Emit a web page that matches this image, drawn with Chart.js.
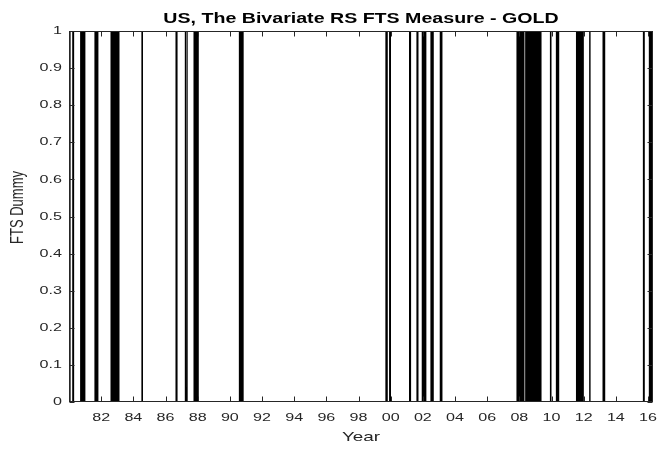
<!DOCTYPE html>
<html>
<head>
<meta charset="utf-8">
<script src="https://cdn.jsdelivr.net/npm/chart.js@4.4.1/dist/chart.umd.min.js"></script>
<style>
  html, body { margin: 0; padding: 0; background: #ffffff; }
  #wrap { width: 657px; height: 450px; position: relative; }
</style>
</head>
<body>
<div id="wrap"><canvas id="c"></canvas></div>
<script>
// Titles
const chartTitle = 'US, The Bivariate RS FTS Measure - GOLD';
const xTitle = 'Year';
const yTitle = 'FTS Dummy';

// Periods where the FTS dummy equals 1 (decimal years, start / end)
const ftsStart = [1980.00, 1980.20, 1980.69, 1981.58, 1982.58, 1984.50, 1986.62, 1987.20, 1987.33, 1987.74,
                  1990.56, 1999.67, 1999.90, 2001.14, 2001.60, 2001.93, 2002.47, 2003.05, 2007.82, 2008.36,
                  2009.90, 2010.27, 2011.52, 2012.34, 2013.17, 2015.68, 2016.05];
const ftsEnd   = [1980.10, 1980.32, 1981.02, 1981.83, 1983.14, 1984.60, 1986.75, 1987.29, 1987.38, 1988.07,
                  1990.86, 1999.82, 2000.02, 2001.27, 2001.73, 2002.22, 2002.68, 2003.22, 2008.32, 2009.38,
                  2010.00, 2010.48, 2012.01, 2012.43, 2013.34, 2015.80, 2016.26];

// Axis ticks
const yearTicks = [1982, 1984, 1986, 1988, 1990, 1992, 1994, 1996, 1998, 2000,
                   2002, 2004, 2006, 2008, 2010, 2012, 2014, 2016];
const dummyTicks = [0, 0.1, 0.2, 0.3, 0.4, 0.5, 0.6, 0.7, 0.8, 0.9, 1];
const xMin = 1980.0, xMax = 2016.31;

// Step outline of the dummy: each period becomes a filled block
const stepPoints = [];
ftsStart.forEach((s, i) => {
  stepPoints.push({ x: s, y: 0 }, { x: s, y: 1 }, { x: ftsEnd[i], y: 1 }, { x: ftsEnd[i], y: 0 });
});

const TEXT = '#262626';
const STRETCH = 1.4;   // wide lettering
const FONT = '"Liberation Sans", Arial, Helvetica, sans-serif';

function wideText(ctx, text, x, y, align, font) {
  ctx.save();
  ctx.font = font;
  ctx.textAlign = align;
  ctx.textBaseline = 'middle';
  ctx.translate(x, y);
  ctx.scale(STRETCH, 1);
  ctx.fillText(text, 0, 0);
  ctx.restore();
}

// Box, inward ticks, tick labels and titles in the MATLAB axes style
const axesDecor = {
  id: 'axesDecor',
  afterDraw(chart) {
    const { ctx, chartArea: a, scales: { x, y } } = chart;
    const L = Math.round(a.left) + 0.5, R = Math.round(a.right) - 0.5;
    const T = Math.round(a.top) + 0.5, B = Math.round(a.bottom) - 0.5;
    const tl = 5;
    ctx.save();
    ctx.strokeStyle = TEXT;
    ctx.lineWidth = 1;
    ctx.beginPath();
    yearTicks.forEach(v => {
      const px = Math.round(x.getPixelForValue(v)) + 0.5;
      ctx.moveTo(px, B); ctx.lineTo(px, B - tl);
      ctx.moveTo(px, T); ctx.lineTo(px, T + tl);
    });
    dummyTicks.forEach(v => {
      const py = Math.round(y.getPixelForValue(v)) + 0.5;
      ctx.moveTo(L, py); ctx.lineTo(L + tl, py);
      ctx.moveTo(R, py); ctx.lineTo(R - tl, py);
    });
    ctx.stroke();
    ctx.strokeRect(L, T, R - L, B - T);

    ctx.fillStyle = TEXT;
    const tickFont = '11.5px ' + FONT;
    yearTicks.forEach(v => {
      const lab = String(v % 100).padStart(2, '0');
      wideText(ctx, lab, x.getPixelForValue(v), a.bottom + 16, 'center', tickFont);
    });
    dummyTicks.forEach(v => {
      wideText(ctx, String(v), a.left - 7, y.getPixelForValue(v), 'right', tickFont);
    });

    const cx = (a.left + a.right) / 2;
    wideText(ctx, xTitle, cx, a.bottom + 35, 'center', '13.5px ' + FONT);

    ctx.fillStyle = '#000000';
    wideText(ctx, chartTitle, cx, a.top - 12, 'center', 'bold 14px ' + FONT);

    ctx.fillStyle = TEXT;
    ctx.save();
    ctx.font = '13px ' + FONT;
    ctx.textAlign = 'center';
    ctx.textBaseline = 'middle';
    ctx.translate(18, (a.top + a.bottom) / 2 - 9);
    ctx.rotate(-Math.PI / 2);
    ctx.scale(1, STRETCH);
    ctx.fillText(yTitle, 0, 0);
    ctx.restore();
    ctx.restore();
  }
};

new Chart(document.getElementById('c'), {
  type: 'line',
  data: {
    datasets: [{
      label: yTitle,
      data: stepPoints,
      borderColor: '#000000',
      borderWidth: 0,
      backgroundColor: '#000000',
      fill: 'origin',
      pointRadius: 0,
      tension: 0
    }]
  },
  options: {
    responsive: true,
    maintainAspectRatio: false,
    animation: false,
    devicePixelRatio: 1,
    layout: { padding: { top: 31, right: 4, left: 0, bottom: 0 } },
    plugins: { legend: { display: false }, tooltip: { enabled: false }, title: { display: false } },
    scales: {
      x: {
        type: 'linear', min: xMin, max: xMax,
        afterBuildTicks: s => { s.ticks = yearTicks.map(v => ({ value: v })); },
        ticks: { display: false },
        grid: { display: false },
        border: { display: false },
        afterFit: s => { s.height = 48; }
      },
      y: {
        type: 'linear', min: 0, max: 1,
        afterBuildTicks: s => { s.ticks = dummyTicks.map(v => ({ value: v })); },
        ticks: { display: false },
        grid: { display: false },
        border: { display: false },
        afterFit: s => { s.width = 69; }
      }
    }
  },
  plugins: [axesDecor]
});
</script>
</body>
</html>
